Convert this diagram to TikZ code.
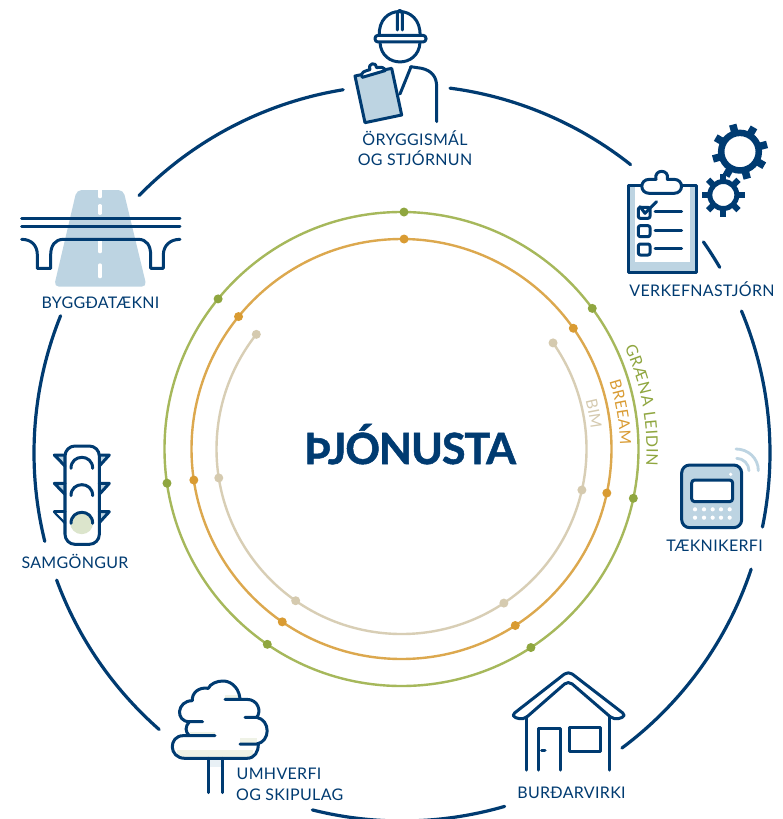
\documentclass[tikz,border=0pt]{standalone}
\usepackage{fontspec}
\setmainfont{Lato}
\newfontfamily\labfont[LetterSpace=2.0]{Lato}
\newfontfamily\titlefont[LetterSpace=-2.5,BoldFeatures={FakeBold=1.2}]{Lato}
\usetikzlibrary{decorations.text}
\definecolor{navy}{HTML}{003B71}
\definecolor{lblue}{HTML}{BDD4E2}
\definecolor{ringG}{HTML}{A6B85B}
\definecolor{ringO}{HTML}{DCA84E}
\definecolor{ringB}{HTML}{D8CEB5}
\definecolor{dotG}{HTML}{8FA63F}
\definecolor{dotO}{HTML}{D99B32}
\definecolor{dotB}{HTML}{D5CAAF}
\definecolor{pale}{HTML}{EFF2E6}
\definecolor{lampgreen}{HTML}{DCE5CC}
\newcommand\outerseg[2]{\draw[outerring] ([shift={(#1:368pt)}]O) arc[start angle=#1,end angle=#2,radius=368pt];}
\newcommand\curvedlabel[6]{\path[decorate,decoration={text along path,text align={fit to path},text color=#5,
  text={|\fontsize{#6}{#6}\selectfont|#4}}] ([shift={(#1:#3pt)}]R) arc[start angle=#1,end angle=#2,radius=#3pt];}
\tikzset{
  zoomscope/.style 2 args={shift={(#1,#2)},x=0.33333pt,y=-0.33333pt},
  outerring/.style={navy,line width=3.2pt,line cap=round},
  icon/.style={navy,line width=3pt,line cap=round,line join=round},
  lab/.style={navy,inner sep=0pt,anchor=base,font=\labfont\fontsize{16}{16}\selectfont},
  ringdot/.style={circle,inner sep=0pt,minimum size=9pt,fill=#1},
  gearpart/.style={navy,line width=#1}
}
\begin{document}
\begin{tikzpicture}[x=1pt,y=-1pt]
\useasboundingbox (0,0) rectangle (783,819);
\fill[white] (0,0) rectangle (783,819);
\coordinate (O) at (402,453);
\coordinate (R) at (401.5,449);
% outer ring
\outerseg{135.6}{99.2}
\outerseg{82.5}{51.6}
\outerseg{35}{30.3}
\outerseg{22.7}{-11.6}
\outerseg{-18.4}{-53.3}
\outerseg{-73.8}{-104.1}
\outerseg{-131.3}{-159.8}
\outerseg{-166.1}{-201.9}
% inner rings
\draw[ringG,line width=2.4pt] (R) circle[radius=237pt];
\draw[ringO,line width=2.4pt] (R) circle[radius=210pt];
\draw[ringB,line width=2.4pt] ([shift={(35:185pt)}]R) arc[start angle=35,end angle=-218.3,radius=185pt];
\foreach \a in {89.4,36.4,-12,-56.9,-124.5,-171.7,140.7} \node[ringdot=dotG] at ([shift={(\a:237pt)}]R) {};
\foreach \a in {89.3,35.1,-12.1,-57.2,-124.6,-171.5,140.9} \node[ringdot=dotO] at ([shift={(\a:210pt)}]R) {};
\foreach \a in {35,-12.8,-56.4,-124.9,-171,141.7} \node[ringdot=dotB] at ([shift={(\a:185pt)}]R) {};
\curvedlabel{24.5}{-4}{245}{GRÆNA LEIDIN}{dotG}{16}
\curvedlabel{18}{1.2}{218.5}{BREEAM}{dotO}{15.5}
\curvedlabel{14.8}{6.2}{190.5}{BIM}{dotB}{15.5}
\node[navy,inner sep=0pt,anchor=base,font=\titlefont\bfseries\fontsize{43}{43}\selectfont] (title) at (410,464) {ÞJÓNUSTA};

% worker
\begin{scope}[zoomscope={320}{0}]
\draw[icon,fill=white] (178,108) .. controls (172,10) and (305,10) .. (300,108);
\draw[icon] (232,90) -- (232,42) .. controls (232,28) and (247,28) .. (247,42) -- (247,90);
\draw[icon,fill=white,rounded corners=3pt] (165,106) -- (318,106) -- (318,126) -- (165,126) -- cycle;
\draw[icon] (180,128) .. controls (185,205) and (295,205) .. (300,128);
\draw[icon] (272,203) -- (240,282);
\draw[icon] (272,200) -- (305,205) .. controls (335,212) and (350,230) .. (350,260) -- (350,365);
\draw[icon,fill=lblue] (105,228) -- (215,205) -- (245,345) -- (135,368) -- cycle;
\draw[icon,fill=white] (127,232) .. controls (118,215) and (140,212) .. (150,209) .. controls (142,188) and (170,185) .. (170,203) .. controls (182,200) and (195,202) .. (195,212) -- cycle;
\end{scope}
\node[lab] (l1a) at (415,145) {ÖRYGGISMÁL};
\node[lab] (l1b) at (415,165.5) {OG STJÓRNUN};

% project management
\begin{scope}[zoomscope={600}{110}]
\draw[icon,fill=lblue] (85,225) rectangle (290,488);
\fill[white] (105,232) rectangle (270,455);
\draw[icon,fill=white] (148,250) .. controls (118,250) and (118,208) .. (148,208) -- (168,208) .. controls (160,176) and (210,176) .. (202,208) -- (222,208) .. controls (252,208) and (252,250) .. (222,250) -- cycle;
\draw[icon,rounded corners=2pt] (115,292) rectangle (150,325);
\draw[icon] (120,290) -- (135,310) -- (170,275);
\draw[icon] (165,305) -- (245,305);
\draw[icon,rounded corners=2pt] (115,347) rectangle (150,380);
\draw[icon] (165,362) -- (245,362);
\draw[icon,rounded corners=2pt] (115,402) rectangle (150,435);
\draw[icon] (165,415) -- (245,415);
\coordinate (G1) at (420,125);
\coordinate (G2) at (370,255);
\draw[gearpart=6.5pt] (G1) circle[radius=18.8pt];
\foreach \a in {15,60,105,150,195,240,285,330} \draw[gearpart=7.5pt] ([shift={(\a:20pt)}]G1) -- ([shift={(\a:28pt)}]G1);
\draw[gearpart=5pt] (G2) circle[radius=13.5pt];
\foreach \a in {0,45,90,135,180,225,270,315} \draw[gearpart=6pt] ([shift={(\a:14pt)}]G2) -- ([shift={(\a:21.5pt)}]G2);
\end{scope}
\node[lab] (l2) at (702,296) {VERKEFNASTJÓRN};

% technical systems
\begin{scope}[zoomscope={640}{430}]
\draw[lblue,line width=2.8pt,line cap=round] (288,57) .. controls (325,57) and (355,85) .. (355,122);
\draw[lblue,line width=2.8pt,line cap=round] (290,85) .. controls (310,85) and (327,102) .. (327,122);
\draw[icon,fill=lblue,rounded corners=8pt] (125,105) rectangle (305,293);
\draw[icon,fill=white,rounded corners=3pt] (155,150) rectangle (278,215);
\foreach \x in {165,192,218,243,269} \foreach \y in {238,263} \fill[white] (\x,\y) circle[radius=2.1pt];
\fill[white] (272,133) circle[radius=1.8pt];
\end{scope}
\node[lab] (l3) at (714.5,551) {TÆKNIKERFI};

% house
\begin{scope}[zoomscope={490}{660}]
\draw[icon,rounded corners=5pt] (235,62) -- (100,180) -- (62,168) -- (235,33) -- (410,168) -- (372,180) -- cycle;
\draw[icon] (110,170) -- (110,330);
\draw[icon] (358,170) -- (358,330);
\draw[icon] (145,330) -- (145,205) -- (210,205) -- (210,330);
\draw[icon] (155,272) -- (165,272);
\draw[icon] (238,203) rectangle (330,273);
\end{scope}
\node[lab] (l4) at (571.5,798) {BURÐARVIRKI};

% tree
\begin{scope}[zoomscope={150}{670}]
\fill[pale] (80,240) rectangle (310,262);
\fill[pale] (270,205) rectangle (320,220);
\fill[pale] (120,185) rectangle (195,196);
\fill[pale] (225,75) rectangle (265,86);
\fill[lblue!35] (180,268) rectangle (212,290);
\draw[icon] (195,197) -- (100,197) .. controls (55,197) and (55,265) .. (105,265) -- (290,265) .. controls (315,265) and (325,245) .. (325,222);
\draw[icon] (270,222) -- (320,222) .. controls (362,215) and (362,150) .. (320,142) -- (285,142);
\draw[icon] (225,88) -- (290,88) .. controls (325,88) and (335,125) .. (320,142);
\draw[icon] (270,85) .. controls (265,45) and (235,32) .. (218,33) .. controls (200,33) and (180,42) .. (175,55) .. controls (145,50) and (125,70) .. (127,92) .. controls (80,92) and (75,155) .. (118,155) -- (158,155);
\draw[icon] (118,155) .. controls (105,170) and (105,185) .. (118,197);
\draw[icon] (175,265) -- (175,368);
\draw[icon] (217,265) -- (217,368);
\end{scope}
\node[lab,anchor=base west] (l5a) at (236.5,779) {UMHVERFI};
\node[lab,anchor=base west] (l5b) at (236,800.5) {OG SKIPULAG};

% traffic light
\begin{scope}[zoomscope={10}{430}]
\fill[lampgreen] (215,278) circle[radius=11.5pt];
\foreach \y in {75,160,245} {
  \fill[lblue] (133,\y) -- (165,\y) -- (165,\y+33) -- cycle;
  \fill[lblue] (268,\y) -- (298,\y) -- (268,\y+33) -- cycle;
  \draw[icon] (165,\y) -- (133,\y) -- (165,\y+33);
  \draw[icon] (268,\y) -- (298,\y) -- (268,\y+33);
}
\fill[white] (140,249) -- (163,249) -- (163,272) -- cycle;
\draw[icon,rounded corners=10pt] (165,48) rectangle (268,343);
\foreach \y in {115,197,280} \draw[icon] (183,\y) .. controls (183,\y-44) and (248,\y-44) .. (248,\y);
\end{scope}
\node[lab] (l6) at (75,568.5) {SAMGÖNGUR};

% road and bridge
\begin{scope}[zoomscope={10}{175}]
\fill[lblue,rounded corners=5pt] (200,45) -- (340,45) -- (410,335) -- (132,335) -- cycle;
\foreach \a/\b in {45/65,92/115,200/230,270/305} \draw[white,line width=3.3pt,line cap=round] (270,\a) -- (270,\b);
\draw[icon] (35,129) -- (510,129);
\draw[icon] (35,153) -- (510,153);
\draw[icon] (35,193) .. controls (65,193) and (82,212) .. (82,240) -- (82,280) -- (122,280) -- (122,240) .. controls (122,212) and (135,193) .. (160,193) -- (385,193) .. controls (410,193) and (422,212) .. (422,240) -- (422,280) -- (460,280) -- (460,240) .. controls (460,212) and (480,193) .. (510,193);
\end{scope}
\node[lab] (l7) at (100.5,308) {BYGGÐATÆKNI};
\end{tikzpicture}
\end{document}
